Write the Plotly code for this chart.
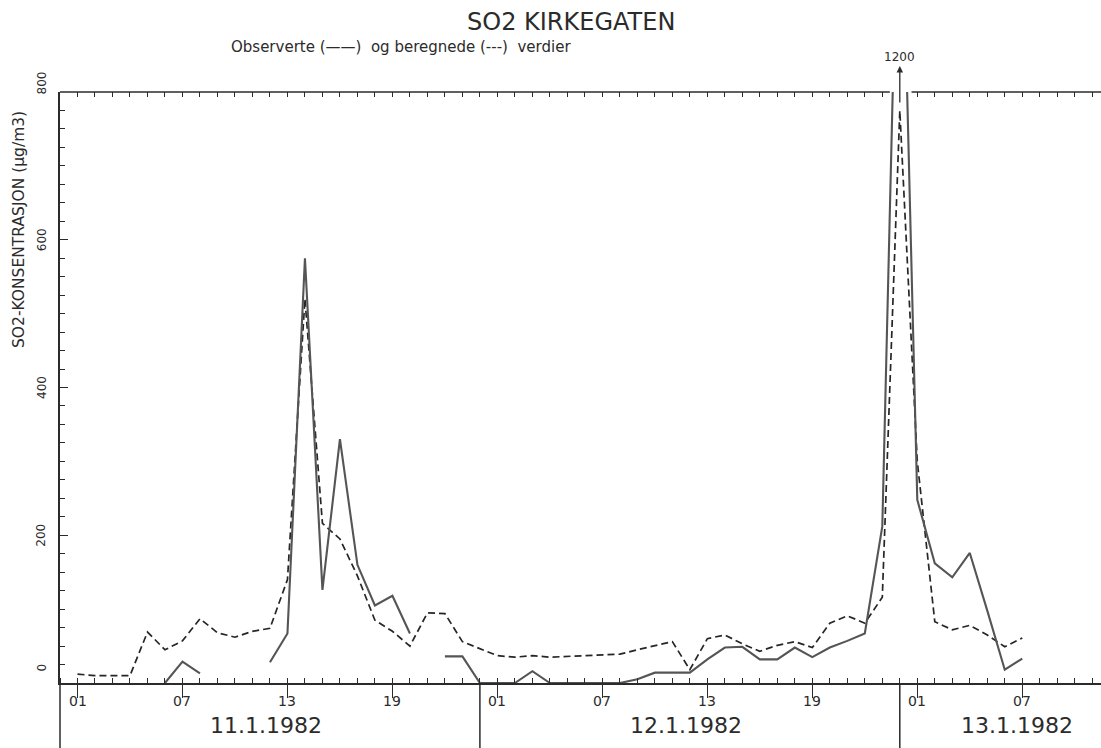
import plotly.graph_objects as go

# ---------------- data ----------------
hours = list(range(1, 56))  # hour 1 = 11.1.1982 kl 01, hour 25 = 12.1 kl 01, hour 49 = 13.1 kl 01

observed = [None, None, None, None, None, 0, 29, 13, None, None, None,
            28, 67, 575, 126, 330, 160, 105, 118, 67, None,
            36, 36, 0, 0, 0, 16, 0, 0, 0, 0, 0, 5, 14, 14, 14, 32, 48, 49, 32, 32,
            48, 35, 48, 57, 67, 212, 1200, 248, 162, 143, 176, 98, 18, 33]

calculated = [12, 10, 10, 10, 69, 45, 57, 87, 68, 62,
              70, 74, 140, 520, 216, 195, 145, 85, 70, 50,
              95, 94, 56, 47, 37, 35, 37, 35, 36, 37,
              38, 39, 45, 50, 56, 18, 60, 65, 53, 43,
              51, 56, 48, 81, 91, 81, 116, 775, 300, 83,
              72, 78, 65, 49, 61]

hour_ticks = [1, 7, 13, 19, 25, 31, 37, 43, 49, 55]
hour_text = ["01", "07", "13", "19", "01", "07", "13", "19", "01", "07"]
y_labels = [0, 200, 400, 600, 800]
dates = ["11.1.1982", "12.1.1982", "13.1.1982"]
date_pos = [11.8, 35.8, 54.7]
day_breaks = [24, 48]
peak_hour = 48
peak_text = "1200"

FONT = "DejaVu Sans"
INK = "#2b2b2b"

fig = go.Figure()
fig.add_trace(go.Scatter(x=hours, y=calculated, mode="lines",
                         line=dict(color="#262626", width=1.7, dash="7px,4px"),
                         showlegend=False, hoverinfo="skip"))
fig.add_trace(go.Scatter(x=hours, y=observed, mode="lines", connectgaps=False,
                         line=dict(color="#555555", width=2.1),
                         showlegend=False, hoverinfo="skip"))
fig.add_trace(go.Scatter(x=[None], y=[None], xaxis="x2", showlegend=False, hoverinfo="skip"))

W, H = 1101, 748
L, R, T, B = 60, 0, 92, 65
pw, ph = W - L - R, H - T - B

def px_x(p):
    return (p - L) / pw

def px_y(p):
    return (H - B - p) / ph

top_ticks = [h for h in range(0, 60) if h != 48]

fig.update_layout(
    width=W, height=H, autosize=False,
    margin=dict(l=L, r=R, t=T, b=B),
    paper_bgcolor="white", plot_bgcolor="white",
    font=dict(family=FONT, color=INK),
    xaxis=dict(range=[0, 59.5], showgrid=False, zeroline=False,
               showline=True, linecolor=INK, linewidth=1.5,
               ticks="outside", ticklen=13, tickwidth=1.3, tickcolor=INK,
               tickmode="array", tickvals=hour_ticks, showticklabels=False,
               minor=dict(tickmode="linear", tick0=0, dtick=1, ticks="inside", ticklen=5,
                          tickwidth=1.1, tickcolor=INK)),
    xaxis2=dict(range=[0, 59.5], overlaying="x", side="top", showgrid=False,
                zeroline=False, showline=False, tickmode="array",
                tickvals=top_ticks, ticks="inside", ticklen=5, tickwidth=1.1,
                tickcolor=INK, showticklabels=False),
    yaxis=dict(range=[0, 800], showgrid=False, zeroline=False,
               showline=True, linecolor=INK, linewidth=1.5,
               ticks="inside", ticklen=8, tickwidth=1.3, tickcolor=INK,
               tick0=0, dtick=200, showticklabels=False,
               minor=dict(dtick=25, ticks="inside", ticklen=5, tickwidth=1.1,
                          tickcolor=INK)),
)

shapes = [
    dict(type="line", xref="x", yref="paper", x0=0, x1=47.43, y0=1, y1=1,
         line=dict(color=INK, width=1.5)),
    dict(type="line", xref="x", yref="paper", x0=48.67, x1=59.5, y0=1, y1=1,
         line=dict(color=INK, width=1.5)),
    dict(type="line", xref="paper", yref="paper", x0=0, x1=0, y0=0, y1=-0.12,
         line=dict(color=INK, width=1.5)),
]
for d in day_breaks:
    shapes.append(dict(type="line", xref="x", yref="paper", x0=d, x1=d, y0=0, y1=-0.12,
                       line=dict(color=INK, width=1.5)))
fig.update_layout(shapes=shapes)

ann = [
    dict(text="SO2 KIRKEGATEN", xref="paper", yref="paper", x=px_x(571), y=px_y(22),
         showarrow=False, font=dict(size=24, family=FONT, color=INK),
         xanchor="center", yanchor="middle"),
    dict(text="Observerte (\u2014\u2014)  og beregnede (---)  verdier", xref="paper", yref="paper",
         x=px_x(401), y=px_y(47), showarrow=False,
         font=dict(size=15, family=FONT, color=INK), xanchor="center", yanchor="middle"),
    dict(text=peak_text, xref="x", yref="paper", x=peak_hour, y=px_y(57), showarrow=False,
         font=dict(size=12, family=FONT, color=INK), xanchor="center", yanchor="middle"),
    dict(text="", xref="x", yref="paper", x=peak_hour, y=px_y(66), showarrow=True,
         ax=0, ay=38, arrowhead=2, arrowsize=1, arrowwidth=1.3, arrowcolor=INK),
    dict(text="SO2-KONSENTRASJON (\u00b5g/m3)", xref="paper", yref="paper",
         x=px_x(19), y=px_y(230), showarrow=False, textangle=-90,
         font=dict(size=15.5, family=FONT, color=INK), xanchor="center", yanchor="middle"),
]
for hv, ht in zip(hour_ticks, hour_text):
    ann.append(dict(text=ht, xref="x", yref="paper", x=hv, y=px_y(701), showarrow=False,
                    font=dict(size=14, family=FONT, color=INK),
                    xanchor="center", yanchor="middle"))
for d, xp in zip(dates, date_pos):
    ann.append(dict(text=d, xref="x", yref="paper", x=xp, y=px_y(725), showarrow=False,
                    font=dict(size=22, family=FONT, color=INK),
                    xanchor="center", yanchor="middle"))
for v in y_labels:
    shift = 15 if v == 0 else (9 if v == 800 else 0)
    ann.append(dict(text=str(v), xref="paper", yref="y", x=px_x(41.5), y=v, yshift=shift,
                    showarrow=False, textangle=-90,
                    font=dict(size=12, family=FONT, color=INK),
                    xanchor="center", yanchor="middle"))
fig.update_layout(annotations=ann)

fig.write_html("out.html")
